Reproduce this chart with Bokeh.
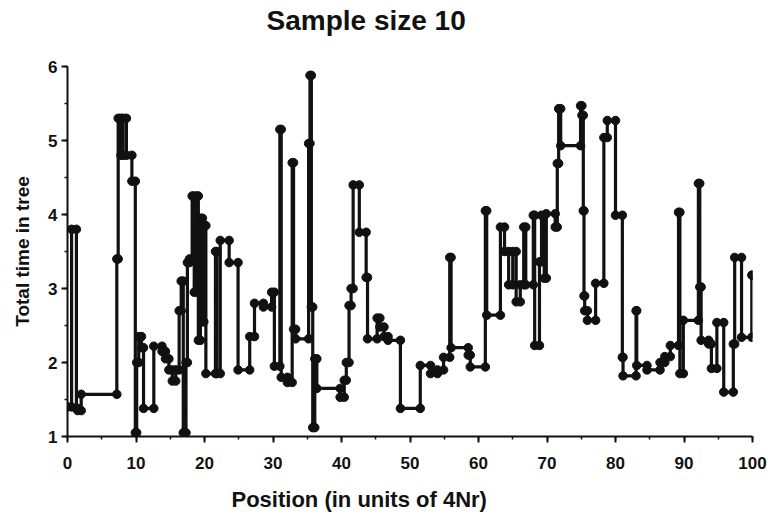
from bokeh.plotting import figure
from bokeh.models import Range1d, SingleIntervalTicker, Title
from bokeh.embed import file_html
from bokeh.resources import INLINE

# ---- data: step function, (segment start position, total time in tree) ----
seg_start = [0.0, 0.6, 1.3, 1.5, 2.0, 7.2, 7.4, 7.8, 8.1, 8.6, 9.4, 9.9, 10.1, 10.4, 10.8,
             11.1, 12.6, 13.8, 14.3, 14.8, 15.3, 15.8, 16.3, 16.6, 16.9, 17.3, 17.5, 17.8,
             18.2, 18.5, 18.9, 19.1, 19.4, 19.7, 19.9, 20.2, 21.6, 21.8, 22.3, 23.6, 24.9,
             26.6, 27.3, 28.6, 29.8, 30.2, 31.0, 31.2, 32.1, 32.8, 33.0, 33.3, 35.2, 35.4,
             35.6, 35.8, 36.1, 36.4, 39.8, 40.4, 40.7, 41.1, 41.4, 41.7, 42.6, 43.6, 43.8,
             45.2, 45.6, 46.2, 46.8, 48.6, 51.5, 53.0, 54.0, 54.9, 55.8, 56.0, 58.5, 58.8,
             61.0, 61.2, 63.2, 63.8, 64.4, 65.0, 65.5, 66.1, 66.6, 66.9, 68.0, 68.2, 68.9,
             69.2, 69.6, 69.9, 71.2, 71.5, 71.7, 72.0, 74.9, 75.1, 75.3, 75.4, 75.5, 75.9,
             77.1, 78.3, 78.8, 80.0, 81.0, 81.1, 83.0, 83.1, 84.6, 86.5, 87.2, 88.0, 89.2,
             89.4, 89.9, 92.1, 92.3, 92.5, 93.6, 94.0, 94.8, 95.8, 97.2, 97.4, 98.4, 99.9]
seg_value = [1.40, 3.80, 1.38, 1.35, 1.57, 3.40, 5.30, 4.80, 5.30, 4.80, 4.45, 1.05, 2.00, 2.35, 2.20,
             1.38, 2.22, 2.15, 2.05, 1.90, 1.75, 1.90, 2.70, 3.10, 1.05, 2.00, 3.35, 3.40,
             4.25, 2.95, 4.25, 2.30, 3.95, 2.55, 3.85, 1.85, 3.50, 1.85, 3.65, 3.35, 1.90,
             2.35, 2.80, 2.75, 2.95, 1.95, 5.15, 1.80, 1.73, 4.70, 2.45, 2.32, 4.96, 5.88,
             2.75, 1.12, 2.05, 1.65, 1.53, 1.76, 2.00, 2.77, 3.00, 4.40, 3.76, 3.15, 2.32,
             2.60, 2.48, 2.35, 2.30, 1.38, 1.96, 1.85, 1.90, 2.07, 3.42, 2.20, 2.10, 1.94,
             4.05, 2.64, 3.83, 3.50, 3.05, 3.50, 2.82, 3.05, 3.83, 3.05, 3.99, 2.23, 3.36,
             3.99, 3.14, 4.01, 3.83, 4.69, 5.43, 4.93, 5.47, 5.34, 4.05, 2.90, 2.70, 2.57,
             3.07, 5.04, 5.27, 3.99, 2.07, 1.82, 2.70, 1.96, 1.90, 2.00, 2.08, 2.23, 4.03,
             1.85, 2.57, 4.42, 3.02, 2.30, 2.25, 1.92, 2.54, 1.60, 2.25, 3.42, 2.34, 3.18]
x_end = 100.0

title_text = "Sample size 10"
x_label = "Position (in units of 4Nr)"
y_label = "Total time in tree"

# ---- build the step path from the segments ----
xs, ys = [], []
for i, (x0, v) in enumerate(zip(seg_start, seg_value)):
    x1 = seg_start[i + 1] if i + 1 < len(seg_start) else x_end
    xs += [x0, x1]
    ys += [v, v]

FONT = "Liberation Sans"
INK = "#111111"

p = figure(width=768, height=518, output_backend="svg", toolbar_location=None,
           x_range=Range1d(0, 100), y_range=Range1d(1, 6),
           min_border_left=67, min_border_right=16, min_border_top=66, min_border_bottom=82)
p.outline_line_color = None
p.grid.visible = False
p.background_fill_color = "white"
p.border_fill_color = "white"

p.line(xs, ys, line_color=INK, line_width=3.2)
p.scatter(xs, ys, size=8.5, fill_color=INK, line_color=INK)

for ax in (p.xaxis[0], p.yaxis[0]):
    ax.axis_line_color = INK
    ax.axis_line_width = 2
    ax.major_tick_line_color = INK
    ax.major_tick_line_width = 2
    ax.minor_tick_line_color = INK
    ax.minor_tick_line_width = 1.5
    ax.major_tick_out = 6
    ax.major_tick_in = 0
    ax.minor_tick_out = 3
    ax.minor_tick_in = 0
    ax.major_label_text_font = FONT
    ax.major_label_text_font_style = "bold"
    ax.major_label_text_font_size = "17px"
    ax.major_label_text_color = INK

p.xaxis[0].ticker = SingleIntervalTicker(interval=10, num_minor_ticks=2)
p.yaxis[0].ticker = SingleIntervalTicker(interval=1, num_minor_ticks=2)
p.xaxis[0].major_label_standoff = 14
p.yaxis[0].major_label_standoff = 4

p.yaxis[0].axis_label = y_label
p.yaxis[0].axis_label_text_font = FONT
p.yaxis[0].axis_label_text_font_style = "bold"
p.yaxis[0].axis_label_text_font_size = "19px"
p.yaxis[0].axis_label_text_color = INK
p.yaxis[0].axis_label_standoff = 12

# spacers (closest to the frame), then the real texts further out
p.add_layout(Title(text=" ", text_font_size="1px", standoff=28), "above")
p.add_layout(Title(text=title_text, align="left", offset=199, standoff=0,
                   text_font=FONT, text_font_style="bold", text_font_size="28px",
                   text_color=INK), "above")

p.add_layout(Title(text=" ", text_font_size="1px", standoff=10), "below")
p.add_layout(Title(text=x_label, align="left", offset=164, standoff=0,
                   text_font=FONT, text_font_style="bold", text_font_size="22px",
                   text_color=INK), "below")

open("out.html", "w").write(file_html(p, INLINE))
